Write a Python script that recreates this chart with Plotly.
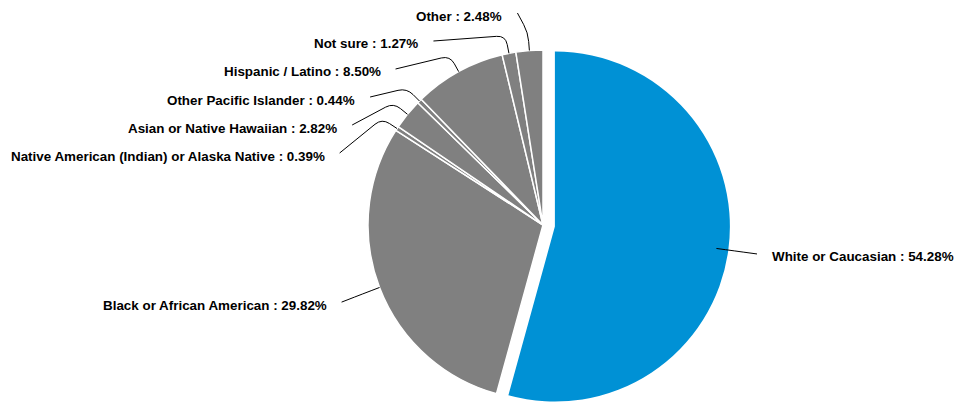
import math
import plotly.graph_objects as go

# ---- data ----
labels = ["White or Caucasian", "Black or African American",
          "Native American (Indian) or Alaska Native", "Asian or Native Hawaiian",
          "Other Pacific Islander", "Hispanic / Latino", "Not sure", "Other"]
values = [54.28, 29.82, 0.39, 2.82, 0.44, 8.50, 1.27, 2.48]
pulled = [True, False, False, False, False, False, False, False]

# ---- style / layout ----
W, H = 956, 404
CX, CY, R = 543, 225, 175          # pie centre & radius (px)
PULL_PX = 12                        # offset of pulled slice (px)
ELBOW = 18                          # connector elbow distance beyond edge
ROUND = 9                           # corner rounding of connector
LAB_A, LAB_B = 216, 213.5           # label ellipse (px)
MIN_GAP, TOP = 28, 13
TEXT_GAP = 13
BLUE, GRAY = "#0091d5", "#808080"
colors = [BLUE if p else GRAY for p in pulled]

def fx(x):
    return x / W

def fy(y):
    return 1 - y / H

total = sum(values)
mids, cum = [], 0.0
for v in values:
    s = cum / total * 360
    cum += v
    e = cum / total * 360
    mids.append(math.radians((s + e) / 2))

def dom(cx, cy):
    return dict(x=[(cx - R) / W, (cx + R) / W], y=[fy(cy + R), fy(cy - R)])

transparent = "rgba(0,0,0,0)"
fig = go.Figure()
# main pie (non-pulled slices)
fig.add_trace(go.Pie(
    labels=labels, values=values, sort=False, direction="clockwise", rotation=0,
    marker=dict(colors=[transparent if p else c for p, c in zip(pulled, colors)],
                line=dict(color="white", width=[0 if p else 1.5 for p in pulled])),
    textinfo="none", hoverinfo="label+percent", showlegend=False,
    domain=dom(CX, CY)))
# pulled slice(s)
th0 = mids[pulled.index(True)]
pcx = CX + PULL_PX * math.sin(th0)
pcy = CY - PULL_PX * math.cos(th0)
fig.add_trace(go.Pie(
    labels=labels, values=values, sort=False, direction="clockwise", rotation=0,
    marker=dict(colors=[c if p else transparent for p, c in zip(pulled, colors)],
                line=dict(color="white", width=0)),
    textinfo="none", hoverinfo="label+percent", showlegend=False,
    domain=dom(pcx, pcy)))

# ---- labels with connectors ----
items = []
for i, th in enumerate(mids):
    side = -1 if math.sin(th) < 0 else 1
    nat = CY - LAB_A * math.cos(th)
    items.append(dict(i=i, th=th, side=side, nat=nat))

shapes, annotations = [], []
for side in (-1, 1):
    group = sorted([it for it in items if it["side"] == side], key=lambda d: d["nat"])
    prev = None
    for it in group:
        y = max(it["nat"], TOP)
        if prev is not None:
            y = max(y, prev + MIN_GAP)
        prev = y
        dy = (y - CY) / LAB_B
        x = CX + side * LAB_A * math.sqrt(max(0.0, 1 - dy * dy))
        th = it["th"]
        sx, sy = math.sin(th), -math.cos(th)
        p0 = (CX + R * sx, CY + R * sy)
        el = (CX + (R + ELBOW) * sx, CY + (R + ELBOW) * sy)
        rr = min(ROUND, ELBOW - 2)
        a = (el[0] - rr * sx, el[1] - rr * sy)
        dx2, dy2 = x - el[0], y - el[1]
        d2 = math.hypot(dx2, dy2) or 1
        rb = min(ROUND, d2 * 0.5)
        b = (el[0] + rb * dx2 / d2, el[1] + rb * dy2 / d2)
        path = (f"M {fx(p0[0])},{fy(p0[1])} L {fx(a[0])},{fy(a[1])} "
                f"Q {fx(el[0])},{fy(el[1])} {fx(b[0])},{fy(b[1])} "
                f"L {fx(x)},{fy(y)}")
        shapes.append(dict(type="path", path=path, xref="paper", yref="paper",
                           line=dict(color="black", width=1), layer="above"))
        i = it["i"]
        annotations.append(dict(
            x=fx(x + side * TEXT_GAP), y=fy(y + 3), xref="paper", yref="paper",
            text=f"{labels[i]} : {values[i]:.2f}%", showarrow=False,
            xanchor="left" if side > 0 else "right", yanchor="middle",
            font=dict(family="Liberation Sans, Arial, sans-serif", size=13.4,
                      color="black", weight="bold")))

fig.update_layout(
    width=W, height=H, margin=dict(l=0, r=0, t=0, b=0),
    paper_bgcolor="white", plot_bgcolor="white",
    shapes=shapes, annotations=annotations, showlegend=False)

fig.write_html("out.html")
